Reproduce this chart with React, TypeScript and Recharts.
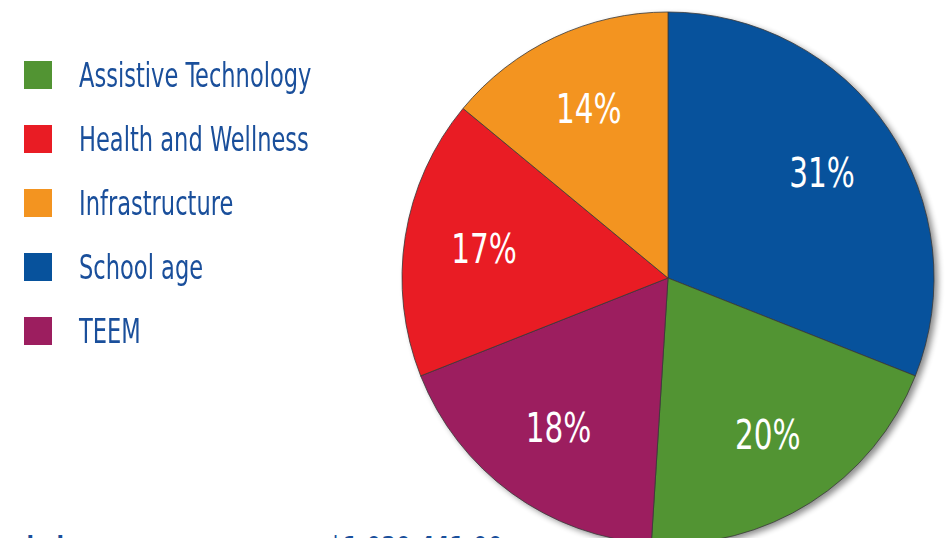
import {Cell, Pie, PieChart} from "recharts";

const categories = ["School age", "Assistive Technology", "TEEM", "Health and Wellness", "Infrastructure"];
const shares = [31, 20, 18, 17, 14];
const colors = ["#07529c", "#529433", "#9c1e5f", "#e91c24", "#f39420"];
const totalLabel = "Total funded";
const totalValue = "$1,039,441.00";

const data = categories.map((name, i) => ({name, value: shares[i], color: colors[i]}));

const FONT = "'DejaVu Sans Condensed', 'Liberation Sans Narrow', 'Open Sans', sans-serif";
const BLUE = "#1a4f9b";
const RAD = Math.PI / 180;

function renderLabel(p : any) {
    const r = p.outerRadius * 0.7;
    const x = p.cx + r * Math.cos(-p.midAngle * RAD);
    const y = p.cy + r * Math.sin(-p.midAngle * RAD);
    return (
        <text transform={`translate(${x},${y}) scale(0.8,1)`} fill="#fff" textAnchor="middle"
              dominantBaseline="central" fontFamily={FONT} fontSize={41}>
            {`${p.value}%`}
        </text>
    );
}

function LegendList() {
    // legend is alphabetical, not in slice order
    const items = [...data].sort((a, b) => a.name.localeCompare(b.name));
    return (
        <div style={{position: "absolute", left: 24, top: 43, fontFamily: FONT}}>
            {items.map(d => (
                <div key={d.name} style={{display: "flex", alignItems: "center", height: 64}}>
                    <div style={{width: 28, height: 28, background: d.color, marginRight: 27}}/>
                    <span style={{color: BLUE, fontSize: 33, whiteSpace: "nowrap",
                        transform: "scaleX(0.76)", transformOrigin: "left center"}}>{d.name}</span>
                </div>
            ))}
        </div>
    );
}

export default function App() {
    return (
        <div style={{position: "absolute", left: 0, top: 0, width: 948, height: 538, background: "#fff"}}>
            <PieChart width={948} height={538} margin={{top: 0, right: 0, bottom: 0, left: 0}}>
                <defs>
                    <filter id="blur" x="-10%" y="-10%" width="120%" height="120%">
                        <feGaussianBlur stdDeviation="3"/>
                    </filter>
                </defs>
                <Pie data={data} dataKey="value" cx={672} cy={281} outerRadius={266}
                     startAngle={90} endAngle={-270} isAnimationActive={false}
                     fill="#000" stroke="none" opacity={0.45} filter="url(#blur)" legendType="none"/>
                <Pie data={data} dataKey="value" cx={668} cy={278} outerRadius={266}
                     startAngle={90} endAngle={-270} isAnimationActive={false}
                     stroke="#3a3a3a" strokeWidth={0.8} label={renderLabel} labelLine={false}>
                    {data.map(d => <Cell key={d.name} fill={d.color}/>)}
                </Pie>
                <text transform="translate(64,559) scale(0.75,1)" textAnchor="end" fill={BLUE} fontFamily={FONT}
                      fontWeight="bold" fontSize={32}>{totalLabel}</text>
                <text transform="translate(328,559) scale(0.75,1)" fill={BLUE} fontFamily={FONT}
                      fontWeight="bold" fontSize={32}>{totalValue}</text>
            </PieChart>
            <LegendList/>
        </div>
    );
}
